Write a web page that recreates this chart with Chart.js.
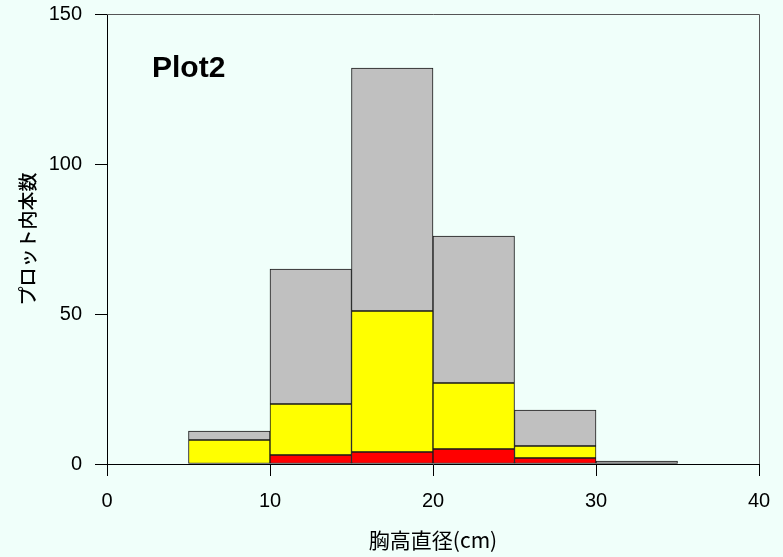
<!DOCTYPE html>
<html>
<head>
<meta charset="utf-8">
<script src="https://cdn.jsdelivr.net/npm/chart.js@4/dist/chart.umd.min.js"></script>
<style>
  html, body { margin: 0; padding: 0; background: #F0FFFA; }
  #wrap { width: 783px; height: 557px; position: relative; }
</style>
</head>
<body>
<div id="wrap"><canvas id="histChart"></canvas></div>
<script>
// 階級 (胸高直径 cm) の下限, 幅5cm
const binStart = [5, 10, 15, 20, 25, 30];
const binWidth = 5;
// 積み上げの各層 (下から 赤, 黄, 灰)
const redCounts = [0, 3, 4, 5, 2, 0];
const yellowCounts = [8, 17, 47, 22, 4, 0];
const grayCounts = [3, 45, 81, 49, 12, 1];
const xTicks = [0, 10, 20, 30, 40];
const yTicks = [0, 50, 100, 150];

const latin = '"Liberation Sans", Arial, "Noto Sans CJK JP", sans-serif';
const jp = '"Noto Sans CJK JP", "Liberation Sans", sans-serif';

function toPoints(arr) {
    return arr.map((v, i) => ({ x: binStart[i] + binWidth / 2, y: v }));
}

function barSet(label, arr, color) {
    return {
        label: label,
        data: toPoints(arr),
        backgroundColor: color,
        borderColor: '#1a1a1a',
        borderWidth: 1,
        borderSkipped: false,
        barPercentage: 1,
        categoryPercentage: 1
    };
}

// 背景と枠 (上・右)
const framePlugin = {
    id: 'frame',
    beforeDraw(chart) {
        const c = chart.ctx;
        c.save();
        c.fillStyle = '#F0FFFA';
        c.fillRect(0, 0, chart.width, chart.height);
        c.restore();
    },
    afterDraw(chart) {
        const { ctx: c, chartArea: a } = chart;
        c.save();
        c.strokeStyle = '#555';
        c.lineWidth = 1;
        c.beginPath();
        c.moveTo(a.left, Math.round(a.top) + 0.5);
        c.lineTo(Math.round(a.right) + 0.5, Math.round(a.top) + 0.5);
        c.lineTo(Math.round(a.right) + 0.5, a.bottom);
        c.stroke();
        c.fillStyle = '#000';
        c.font = 'bold 30px ' + latin;
        c.textBaseline = 'alphabetic';
        c.fillText('Plot2', a.left + 45, a.top + 63);
        c.restore();
    }
};

new Chart(document.getElementById('histChart'), {
    type: 'bar',
    data: {
        datasets: [
            barSet('赤', redCounts, '#FF0000'),
            barSet('黄', yellowCounts, '#FFFF00'),
            barSet('灰', grayCounts, '#C0C0C0')
        ]
    },
    options: {
        responsive: true,
        maintainAspectRatio: false,
        animation: false,
        layout: { padding: { left: 0, top: 14, right: 24, bottom: 0 } },
        plugins: { legend: { display: false }, tooltip: { enabled: false } },
        scales: {
            x: {
                type: 'linear',
                stacked: true,
                offset: false,
                min: 0,
                max: 40,
                afterBuildTicks: s => { s.ticks = xTicks.map(v => ({ value: v })); },
                afterFit: s => { s.height = 93; s.paddingLeft = 0; s.paddingRight = 0; },
                grid: { offset: false, drawOnChartArea: false, tickLength: 12, tickColor: '#000' },
                border: { color: '#000', width: 1 },
                ticks: { color: '#000', padding: 13, font: { family: latin, size: 20 } },
                title: {
                    display: true,
                    text: '胸高直径(cm)',
                    color: '#000',
                    font: { family: jp, size: 21 },
                    padding: { top: 0, bottom: 4 }
                }
            },
            y: {
                stacked: true,
                min: 0,
                max: 150,
                afterBuildTicks: s => { s.ticks = yTicks.map(v => ({ value: v })); },
                afterFit: s => { s.width = 107; s.paddingTop = 0; s.paddingBottom = 0; },
                grid: { drawOnChartArea: false, tickLength: 12, tickColor: '#000' },
                border: { color: '#000', width: 1 },
                ticks: { color: '#000', padding: 13, font: { family: latin, size: 20 } },
                title: {
                    display: true,
                    text: 'プロット内本数',
                    color: '#000',
                    font: { family: jp, size: 19, weight: '500' },
                    padding: { top: 16, bottom: 0 }
                }
            }
        }
    },
    plugins: [framePlugin]
});
</script>
</body>
</html>
